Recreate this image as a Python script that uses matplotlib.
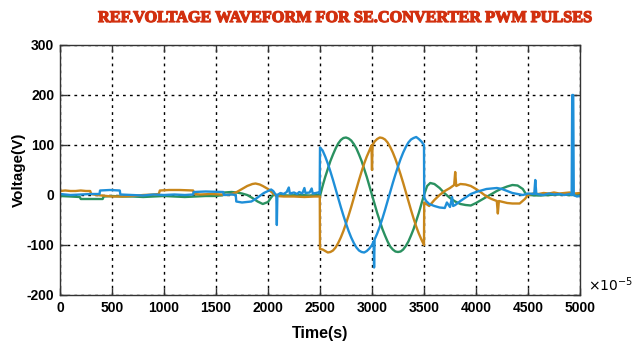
import matplotlib
matplotlib.use("Agg")
import matplotlib.pyplot as plt
import matplotlib.patheffects as pe

# ---------------- data ----------------
t_orange = [0, 50, 100, 150, 200, 250, 290, 300, 350, 400, 450, 500, 600, 700, 750, 800, 900, 950, 960,
            1050, 1150, 1280, 1290, 1350, 1450, 1550, 1600, 1650, 1700, 1750, 1800, 1850, 1880, 1920, 1950,
            2000, 2050, 2080, 2150, 2250, 2350, 2450, 2498,
            2500, 2525, 2550, 2575, 2600, 2625, 2650, 2675, 2700, 2725, 2750, 2775, 2800, 2825, 2850, 2875,
            2900, 2925, 2950, 2975, 2995, 3000, 3005, 3025, 3050, 3075, 3100, 3125, 3150, 3175, 3200, 3225,
            3250, 3275, 3300, 3325, 3350, 3375, 3400, 3425, 3450, 3475, 3500,
            3502, 3550, 3600, 3650, 3700, 3750, 3790, 3800, 3810, 3850, 3900, 3950, 4000, 4050, 4100, 4150,
            4200, 4210, 4220, 4260, 4300, 4350, 4420, 4470, 4500, 4550, 4600, 4650, 4700, 4750, 4800, 4850,
            4900, 4950, 5000]
v_orange = [8, 9, 8, 8, 9, 8, 8, 2, 0, -1, -2, -3, -3, -2, -1, 0, 1, 2, 9,
            10, 10, 9, 2, 1, 2, 1, 0, 2, 6, 12, 18, 22, 23, 21, 18,
            12, 3, -2, -3, -3, -4, -3, -3,
            -108, -109, -112, -115, -114, -111, -105, -96, -85, -72, -57, -41, -24, -6, 12, 30,
            47, 63, 77, 89, 99, 50, 100, 107, 112, 115, 114, 111, 105, 96, 85, 72,
            57, 41, 24, 6, -12, -30, -47, -63, -77, -89, -100,
            -15, -22, -10, 0, 8, 14, 20, 46, 18, 22, 21, 18, 12, 5, -3, -8,
            -12, -37, -12, -14, -16, -17, -17, -8, 0, 3, 2, 4, 3, 5, 3, 4,
            5, 3, 4]

t_green = [0, 100, 190, 200, 300, 410, 420, 500, 600, 700, 800, 900, 1000, 1100, 1200, 1300, 1400, 1500,
           1570, 1580, 1650, 1700, 1750, 1800, 1850, 1900, 1950, 2000, 2030, 2050, 2100, 2200, 2300, 2400, 2498,
           2500, 2525, 2550, 2575, 2600, 2625, 2650, 2675, 2700, 2725, 2750, 2775, 2800, 2825, 2850, 2875,
           2900, 2925, 2950, 2975, 3000, 3025, 3050, 3075, 3100, 3125, 3150, 3175, 3200, 3225, 3250, 3275,
           3300, 3325, 3350, 3375, 3400, 3425, 3450, 3475, 3500,
           3530, 3560, 3600, 3650, 3700, 3750, 3800, 3850, 3900, 3950, 4000, 4050, 4100, 4150, 4200, 4250,
           4300, 4350, 4400, 4450, 4480, 4500, 4600, 4700, 4800, 4900, 5000]
v_green = [-2, -3, -4, -8, -8, -8, -3, -2, -3, -3, -4, -3, -2, -3, -4, -3, -2, -2,
           0, 5, 6, 5, 3, 0, -6, -13, -18, -14, -5, 0, 0, -1, 0, -1, 0,
           -2, 18, 36, 52, 68, 81, 93, 103, 110, 114, 115, 113, 109, 102, 93, 81,
           68, 52, 36, 18, 0, -18, -36, -52, -68, -81, -93, -103, -109, -113, -114, -113,
           -109, -102, -93, -81, -68, -52, -36, -18, 0,
           18, 24, 22, 14, 3, -6, -13, -18, -20, -21, -16, -10, -4, 2, 8, 13,
           17, 20, 19, 12, 2, 0, -1, 0, 1, 0, 0]

t_blue = [0, 50, 100, 200, 300, 380, 385, 480, 575, 580, 700, 800, 900, 1000, 1100, 1200, 1280, 1285,
          1400, 1570, 1575, 1650, 1690, 1695, 1750, 1800, 1840, 1880, 1920, 1960, 2000, 2030, 2050, 2070,
          2080, 2085, 2090, 2120, 2150, 2180, 2200, 2210, 2250, 2280, 2300, 2330, 2350, 2360, 2400, 2420,
          2430, 2460, 2480, 2497,
          2500, 2525, 2550, 2575, 2600, 2625, 2650, 2675, 2700, 2725, 2750, 2775, 2800, 2825, 2850, 2875,
          2900, 2925, 2950, 2975, 3000, 3015, 3020, 3025, 3050, 3075, 3100, 3125, 3150, 3175, 3200, 3225,
          3250, 3275, 3300, 3325, 3350, 3375, 3400, 3425, 3450, 3475, 3500,
          3502, 3520, 3550, 3600, 3650, 3700, 3720, 3750, 3770, 3780, 3800, 3850, 3900, 3950, 4000, 4050,
          4100, 4150, 4200, 4250, 4300, 4350, 4400, 4450, 4500, 4560, 4570, 4580, 4650, 4700, 4750, 4800,
          4850, 4900, 4920, 4925, 4935, 4940, 4970, 5000]
v_blue = [2, 1, 0, 1, 2, 2, 9, 10, 9, 1, 0, -1, 1, 0, 1, 0, 1, 6,
          7, 6, 0, 1, 0, -13, -15, -14, -13, -8, -2, 4, 8, 11, 8, 2,
          0, -60, 0, 4, 2, 6, 15, 3, 5, 2, 6, 3, 14, 4, 5, 13,
          3, 4, 5, 3,
          95, 89, 77, 63, 47, 30, 12, -6, -24, -41, -57, -72, -85, -96, -105, -111,
          -114, -115, -112, -107, -100, -93, -145, -89, -77, -63, -47, -30, -12, 6, 24, 41,
          57, 72, 85, 96, 105, 111, 114, 116, 112, 107, 100,
          -5, -12, -18, -22, -25, -26, -15, -24, -4, -22, -20, -12, -5, 2, 6, 9,
          12, 13, 14, 12, 8, 4, 2, 0, 3, 2, 30, 2, 0, 3, 1, 2,
          0, 2, 0, 200, 200, 0, -3, -2]

x_ticks = [0, 500, 1000, 1500, 2000, 2500, 3000, 3500, 4000, 4500, 5000]
y_ticks = [-200, -100, 0, 100, 200, 300]

# ---------------- figure ----------------
sans = ['Liberation Sans', 'DejaVu Sans']
fig = plt.figure(figsize=(6.42, 3.47), dpi=100)
ax = fig.add_axes([60 / 642, 1 - 295 / 347, 520 / 642, 250 / 347])

ax.plot(t_green, v_green, color='#2a9160', lw=1.7)
ax.plot(t_orange, v_orange, color='#c8861a', lw=1.7)
ax.plot(t_blue, v_blue, color='#1f8fd8', lw=1.7)

ax.set_xlim(0, 5000)
ax.set_ylim(-200, 300)
ax.set_xticks(x_ticks)
ax.set_yticks(y_ticks)
ax.set_xticklabels([str(v) for v in x_ticks], fontfamily=sans, fontweight='bold', fontsize=10)
ax.set_yticklabels([str(v) for v in y_ticks], fontfamily=sans, fontweight='bold', fontsize=10)
ax.tick_params(direction='in', length=5, width=1, top=True, right=True, color='#333333', pad=4)
ax.grid(True, color='black', linestyle=(0, (2, 3)), lw=1)
for s in ax.spines.values():
    s.set_color('#333333')
    s.set_linewidth(1)

ax.set_xlabel('Time(s)', fontfamily=sans, fontweight='bold', fontsize=11.5)
ax.xaxis.set_label_coords(0.5, -0.125)
ax.xaxis.label.set_va('top')
ax.set_ylabel('Voltage(V)', fontfamily=sans, fontweight='bold', fontsize=11)
ax.yaxis.set_label_coords(-0.066, 0.5)

fig.text(588 / 642, 1 - 285 / 347, r'$\times10^{-5}$', fontsize=10, ha='left', va='center')
fig.text(345 / 642, 1 - 18 / 347, 'REF.VOLTAGE WAVEFORM FOR SE.CONVERTER PWM PULSES',
         fontfamily=['Liberation Serif', 'DejaVu Serif'], fontweight='bold', fontsize=11.7,
         color='#d2300f', ha='center', va='center',
         path_effects=[pe.withStroke(linewidth=0.9, foreground='#d2300f')])

fig.savefig('out.png', dpi=100)
